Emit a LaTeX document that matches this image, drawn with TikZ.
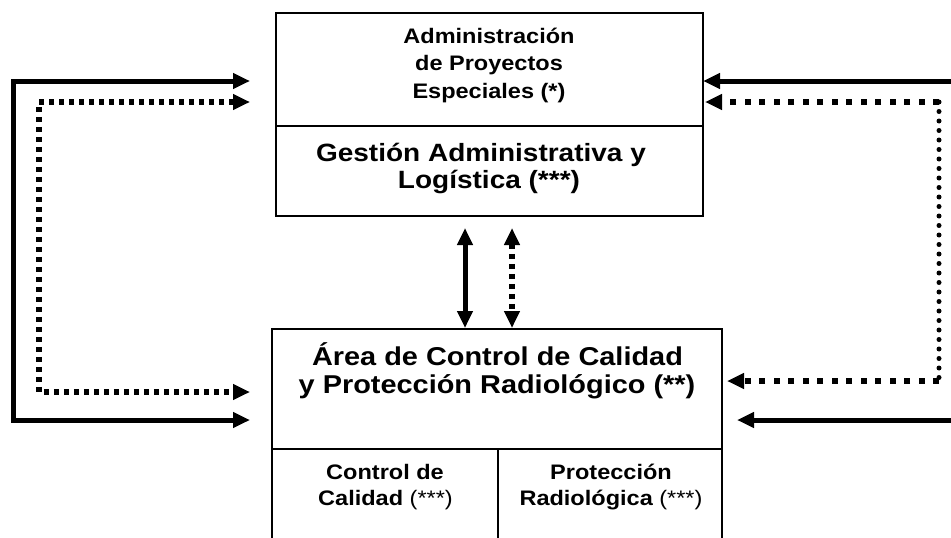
\documentclass[tikz,border=0pt]{standalone}
\usepackage{fontspec}
\newfontfamily\lab{Liberation Sans}[FakeStretch=1.12]
\usetikzlibrary{arrows.meta}
\begin{document}
\begin{tikzpicture}[x=1pt,y=-1pt,
  box/.style={draw, line width=1.8pt, inner sep=0pt, outer sep=0pt, anchor=north west},
  txt/.style={anchor=base, inner sep=0pt},
  fa/.style={font=\lab\bfseries\fontsize{21}{21}\selectfont},
  fb/.style={font=\lab\bfseries\fontsize{25}{25}\selectfont},
  fc/.style={font=\lab\bfseries\fontsize{25.8}{25.8}\selectfont},
  tip/.style={-{Triangle[length=17pt,width=15pt]}},
  tips/.style={{Triangle[length=17pt,width=15pt]}-{Triangle[length=17pt,width=15pt]}},
  solidln/.style={line width=5pt},
  dotl/.style={line width=5.5pt, dash pattern=on 5pt off 5pt},
  dotr/.style={line width=6pt, dash pattern=on 6pt off 8.5pt},
  dotv/.style={line width=5pt, line cap=round, dash pattern=on 0pt off 9.5pt}
]
\useasboundingbox (0,0) rectangle (951,538);

% boxes
\node[box, minimum width=427pt, minimum height=113pt] (adm) at (276,13) {};
\node[box, minimum width=427pt, minimum height=90pt] (gest) at (276,126) {};
\node[box, minimum width=450pt, minimum height=120pt] (area) at (272,329) {};
\node[box, minimum width=226pt, minimum height=110pt] (cc) at (272,449) {};
\node[box, minimum width=224pt, minimum height=110pt] (pr) at (498,449) {};

% texts
\node[txt, fa] (t1) at (489,43.3) {Administración};
\node[txt, fa] (t2) at (489,70) {de Proyectos};
\node[txt, fa] (t3) at (489,98.3) {Especiales (*)};
\node[txt, fb] (t4) at (481,161.7) {Gestión Administrativa y};
\node[txt, fb] (t5) at (489,188.3) {Logística (***)};
\node[txt, fc] (t6) at (497.5,365) {Área de Control de Calidad};
\node[txt, fc] (t7) at (497,393.3) {y Protección Radiológico (**)};
\node[txt, fa] (t8) at (385,479.3) {Control de};
\node[txt, fa] (t9) at (385.5,505) {Calidad {\mdseries(***)}};
\node[txt, fa] (t10) at (611,479.3) {Protección};
\node[txt, fa] (t11) at (611,505) {Radiológica {\mdseries(***)}};

% coordinates
\coordinate (la1) at (250,81);
\coordinate (la2) at (13,81);
\coordinate (la3) at (13,420);
\coordinate (la4) at (250,420);
\coordinate (ld1) at (250,102);
\coordinate (ld2) at (39,102);
\coordinate (ld3) at (39,392);
\coordinate (ld4) at (250,392);
\coordinate (ra1) at (960,81);
\coordinate (ra2) at (703,81);
\coordinate (rd1) at (705,102);
\coordinate (rd2) at (939,102);
\coordinate (rd3) at (939,381);
\coordinate (rd4) at (727,381);
\coordinate (rb1) at (960,420);
\coordinate (rb2) at (737,420);
\coordinate (ms1) at (465,228);
\coordinate (ms2) at (465,328);
\coordinate (md1) at (512,228);
\coordinate (md2) at (512,328);

% left connectors
\draw[solidln, tips] (la1) -- (la2) -- (la3) -- (la4);
\draw[dotl, tips] (ld1) -- (ld2) -- (ld3) -- (ld4);

% right connectors
\draw[solidln, tip] (ra1) -- (ra2);
\draw[dotr, tip] (rd2) -- (rd1);
\draw[dotv] (rd2) -- (rd3);
\draw[dotr, tip] (rd3) -- (rd4);
\draw[solidln, tip] (rb1) -- (rb2);

% middle connectors
\draw[solidln, tips] (ms1) -- (ms2);
\draw[dotl, tips] (md1) -- (md2);
\end{tikzpicture}
\end{document}
